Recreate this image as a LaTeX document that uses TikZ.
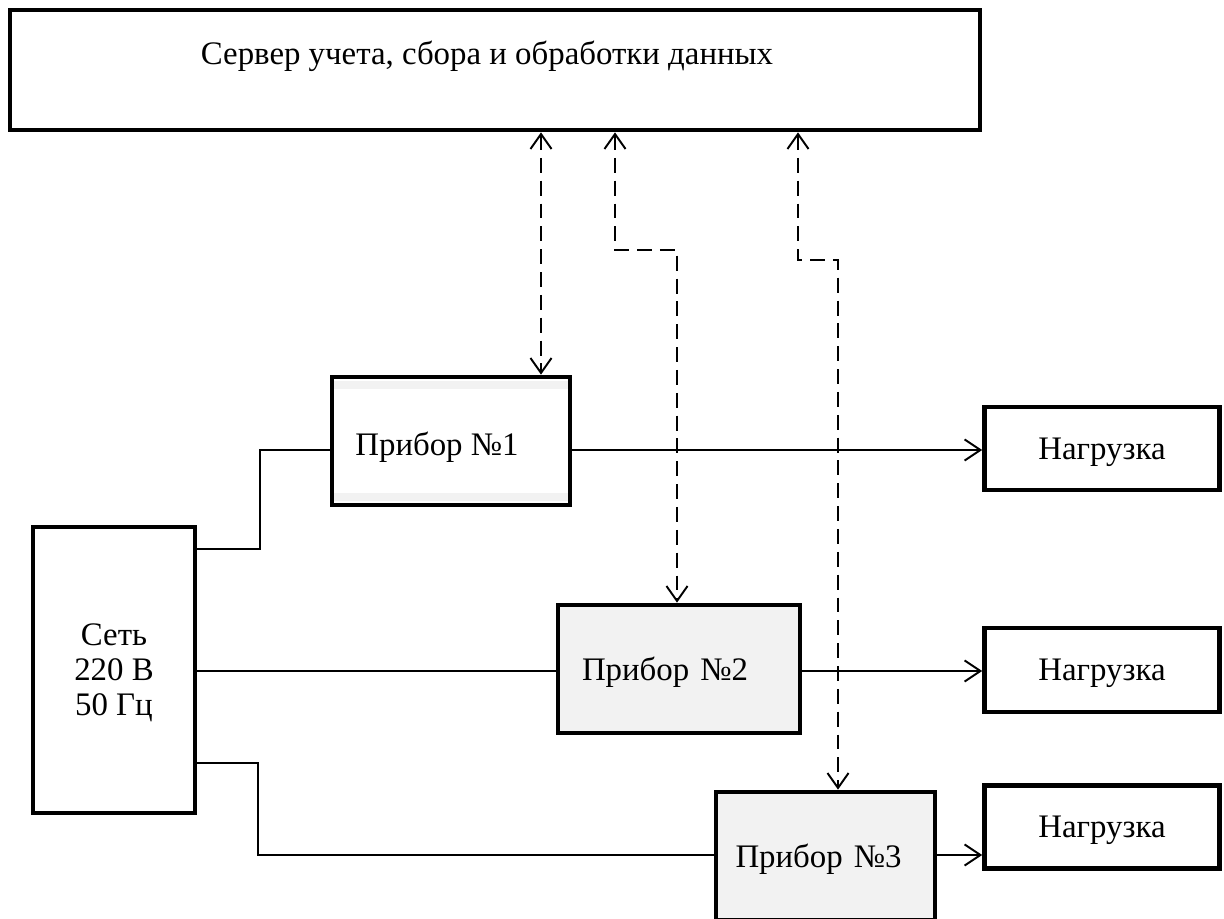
\documentclass[tikz,border=0pt]{standalone}
\usepackage{fontspec}
\setmainfont{Liberation Serif}
\usetikzlibrary{arrows.meta}
\newlength{\px}
\setlength{\px}{0.02cm}
\definecolor{boxgray}{HTML}{F2F2F2}
\begin{document}
\begin{tikzpicture}[x=0.02cm,y=-0.02cm,
  lbl/.style={font=\fontsize{18.7}{20}\selectfont},
  box/.style={draw, line width=2.7pt, rectangle, inner sep=0pt, lbl, text depth=0pt},
  wire/.style={line width=1.1pt},
  sarrow/.style={wire, -{Straight Barb[length=9pt,width=12pt,line width=1.1pt]}},
  darrow/.style={line width=1.1pt, dash pattern=on 8.5pt off 4.5pt, {Straight Barb[length=8.5pt,width=12pt,line width=1.1pt]}-{Straight Barb[length=8.5pt,width=12pt,line width=1.1pt]}}
]
\useasboundingbox (0,0) rectangle (1224,919);
\clip (0,0) rectangle (1224,919);

% nodes
\node[box, minimum width=970\px, minimum height=120\px] (srv) at (495,70) {};
\node[lbl, inner sep=0pt] (srvtext) at (487,56) {Сервер учета, сбора и обработки данных};

\node[box, fill=white, minimum width=238\px, minimum height=128\px] (p1) at (451,441) {};
\fill[boxgray] (334,381) rectangle (568,389);
\fill[boxgray] (334,493) rectangle (568,501);
\node[lbl, inner sep=0pt, anchor=west, text depth=0pt] (p1text) at (355,444) {Прибор №1};

\node[box, fill=boxgray, minimum width=242\px, minimum height=128\px, text width=194\px, align=left] (p2) at (679,669) {Прибор №2};
\node[box, fill=boxgray, minimum width=219\px, minimum height=128\px, text width=180\px, align=left] (p3) at (825.5,856) {Прибор №3};

\node[box, minimum width=235\px, minimum height=83\px] (n1) at (1102,448.5) {Нагрузка};
\node[box, minimum width=235\px, minimum height=84\px] (n2) at (1102,670) {Нагрузка};
\node[box, minimum width=235\px, minimum height=83\px] (n3) at (1102,827) {Нагрузка};

\node[box, minimum width=162\px, minimum height=286\px, align=center, font=\fontsize{18.7}{35\px}\selectfont] (set) at (114,670) {Сеть\\220 В\\50 Гц};

% helper coordinates
\coordinate (ya) at (0,549);
\coordinate (yb) at (0,671);
\coordinate (yc) at (0,763);
\coordinate (y1) at (0,450);
\coordinate (y3) at (0,855);
\coordinate (xa) at (260,0);
\coordinate (xc) at (258,0);
\coordinate (d1) at (541,0);
\coordinate (d2a) at (615,0);
\coordinate (d2b) at (677,0);
\coordinate (d3a) at (798,0);
\coordinate (d3b) at (838,0);
\coordinate (k2) at (0,250);
\coordinate (k3) at (0,260);

% power wires
\draw[wire] (set.east |- ya) -| (xa |- y1) -- (p1.west |- y1);
\draw[wire] (set.east |- yb) -- (p2.west |- yb);
\draw[wire] (set.east |- yc) -| (xc |- y3) -- (p3.west |- y3);

% to loads
\draw[sarrow] (p1.east |- y1) -- (n1.west |- y1);
\draw[sarrow] (p2.east |- yb) -- (n2.west |- yb);
\draw[sarrow] (p3.east |- y3) -- (n3.west |- y3);

% data links
\draw[darrow] (srv.south -| d1) -- (p1.north -| d1);
\draw[darrow] (srv.south -| d2a) -- (d2a |- k2) -- (d2b |- k2) -- (p2.north -| d2b);
\draw[darrow] (srv.south -| d3a) -- (d3a |- k3) -- (d3b |- k3) -- (p3.north -| d3b);
\end{tikzpicture}
\end{document}
